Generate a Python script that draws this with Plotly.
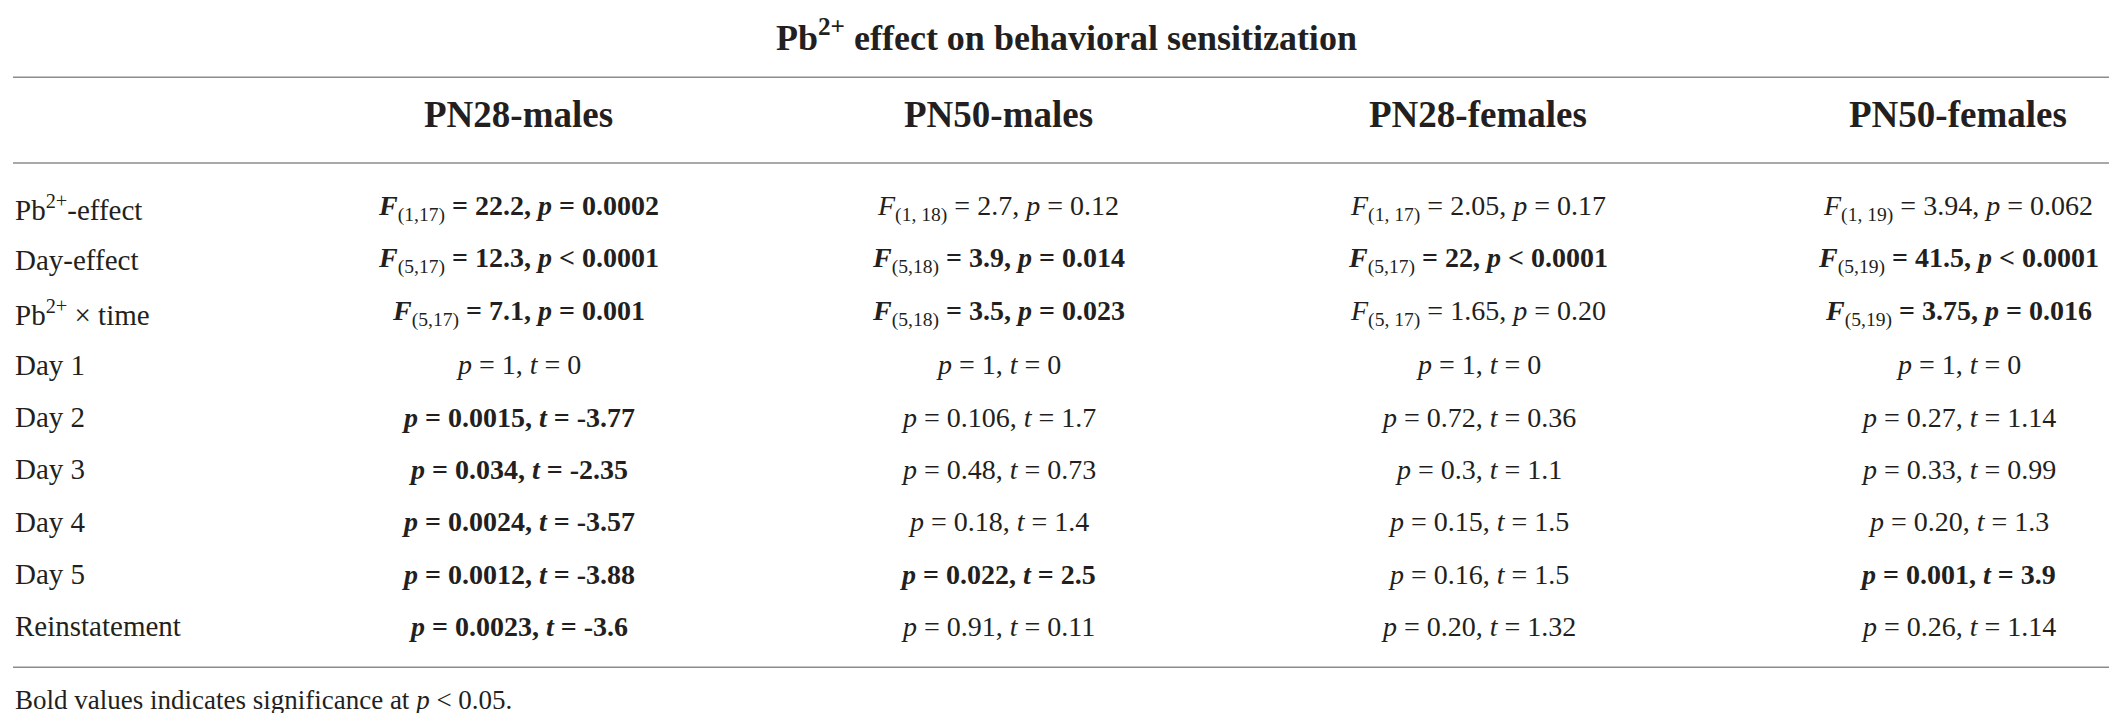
import plotly.graph_objects as go

# table content
title = "Pb<sup>2+</sup> effect on behavioral sensitization"
groups = ["PN28-males", "PN50-males", "PN28-females", "PN50-females"]
row_labels = ["Pb<sup>2+</sup>-effect", "Day-effect", "Pb<sup>2+</sup> \u00d7 time",
              "Day 1", "Day 2", "Day 3", "Day 4", "Day 5", "Reinstatement"]

# ANOVA rows (Pb effect, Day effect, Pb x time) per group
f_df = [["1,17", "5,17", "5,17"],
        ["1, 18", "5,18", "5,18"],
        ["1, 17", "5,17", "5, 17"],
        ["1, 19", "5,19", "5,19"]]
f_val = [["22.2", "12.3", "7.1"],
         ["2.7", "3.9", "3.5"],
         ["2.05", "22", "1.65"],
         ["3.94", "41.5", "3.75"]]
f_p = [["= 0.0002", "< 0.0001", "= 0.001"],
       ["= 0.12", "= 0.014", "= 0.023"],
       ["= 0.17", "< 0.0001", "= 0.20"],
       ["= 0.062", "< 0.0001", "= 0.016"]]

# post-hoc rows (Day 1-5, reinstatement) per group
day_p = [["1", "0.0015", "0.034", "0.0024", "0.0012", "0.0023"],
         ["1", "0.106", "0.48", "0.18", "0.022", "0.91"],
         ["1", "0.72", "0.3", "0.15", "0.16", "0.20"],
         ["1", "0.27", "0.33", "0.20", "0.001", "0.26"]]
day_t = [["0", "-3.77", "-2.35", "-3.57", "-3.88", "-3.6"],
         ["0", "1.7", "0.73", "1.4", "2.5", "0.11"],
         ["0", "0.36", "1.1", "1.5", "1.5", "1.32"],
         ["0", "1.14", "0.99", "1.3", "3.9", "1.14"]]

footnote = "Bold values indicates significance at <i>p</i> < 0.05."

ALPHA = 0.05
FONT = "Liberation Serif"
INK = "#231f20"
RULE = "#8c8c8c"


def pval(s):
    return float(s.replace("=", "").replace("<", "").strip())


def cell_text(j, i):
    if i < 3:
        sig = pval(f_p[j][i]) < ALPHA
        head = "<i>F</i>"
        sub = f"<sub>({f_df[j][i]})</sub>"
        rest = f" = {f_val[j][i]}, <i>p</i> {f_p[j][i]}"
        if sig:
            # subscript stays regular weight, as in the source table
            return f"<b>{head}</b>{sub}<b>{rest}</b>"
        return head + sub + rest
    k = i - 3
    txt = f"<i>p</i> = {day_p[j][k]}, <i>t</i> = {day_t[j][k]}"
    return f"<b>{txt}</b>" if pval(day_p[j][k]) < ALPHA else txt


fig = go.Figure()
annotations = []

# title, header, footnote
annotations.append(dict(x=0.5, xref="paper", y=-3.29, yref="y", text=f"<b>{title}</b>",
                        showarrow=False, font=dict(family=FONT, size=36, color=INK)))
for j, g in enumerate(groups):
    annotations.append(dict(x=j + 1, xref="x", y=-1.78, yref="y", text=f"<b>{g}</b>",
                            showarrow=False, font=dict(family=FONT, size=37, color=INK)))
annotations.append(dict(x=0, xref="paper", xanchor="left", y=9.41, yref="y", text=footnote,
                        showarrow=False, font=dict(family=FONT, size=27, color=INK)))

# body
for i, lab in enumerate(row_labels):
    annotations.append(dict(x=0, xref="paper", xanchor="left", y=i, yref="y", text=lab,
                            showarrow=False, font=dict(family=FONT, size=29, color=INK)))
    for j in range(len(groups)):
        annotations.append(dict(x=j + 1, xref="x", y=i, yref="y", text=cell_text(j, i),
                                showarrow=False, font=dict(family=FONT, size=28, color=INK)))

# horizontal rules
shapes = []
for yy in [-2.5, -0.86, 8.78]:
    shapes.append(dict(type="line", xref="paper", x0=0, x1=1, yref="y", y0=yy, y1=yy,
                       line=dict(color=RULE, width=1.6)))

fig.update_layout(
    width=2117, height=713,
    margin=dict(l=5, r=6, t=0, b=0),
    plot_bgcolor="white", paper_bgcolor="white",
    xaxis=dict(range=[-0.0521, 4.3354], visible=False),
    yaxis=dict(range=[9.809, -3.824], visible=False),
    annotations=annotations, shapes=shapes,
    showlegend=False,
)

fig.write_html("out.html")
